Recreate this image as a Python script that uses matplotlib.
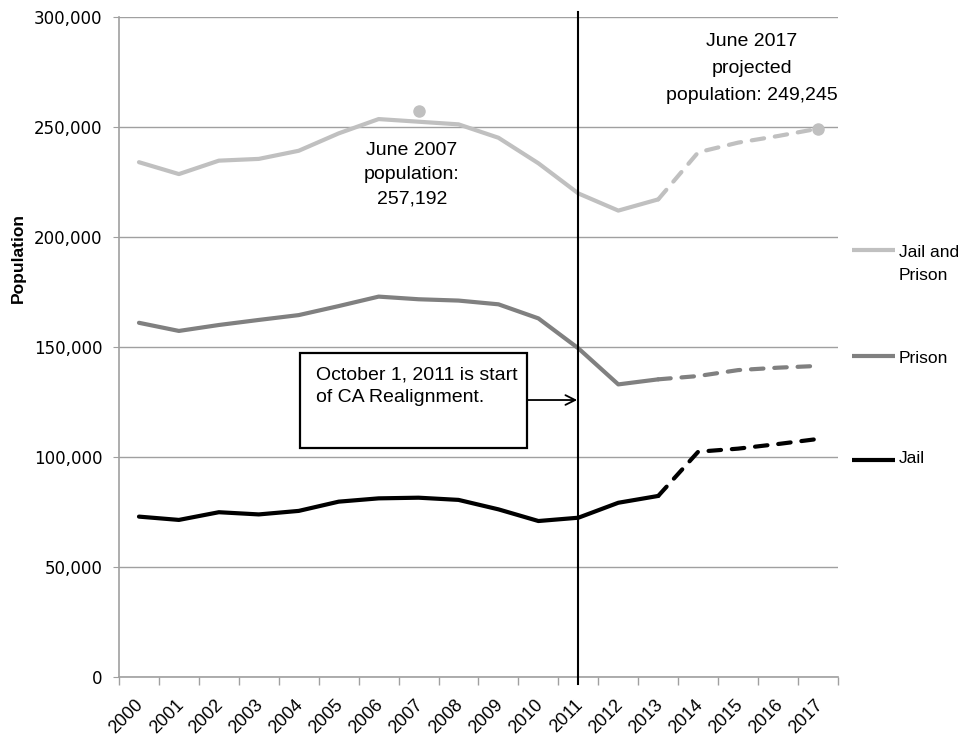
import matplotlib
matplotlib.use("Agg")
import matplotlib.pyplot as plt
from matplotlib import font_manager
from matplotlib.patches import Rectangle
from matplotlib.ticker import FuncFormatter, FixedLocator
from matplotlib.transforms import ScaledTranslation

# California incarcerated population, 2000-2017 (2014 onward projected)
years = ["2000", "2001", "2002", "2003", "2004", "2005", "2006", "2007", "2008",
         "2009", "2010", "2011", "2012", "2013", "2014", "2015", "2016", "2017"]
jail_and_prison = [234000, 228600, 234700, 235500, 239200, 247100, 253600, 252400, 251200,
                   245100, 233500, 219800, 212000, 217100, 238500, 242900, 245900, 249245]
prison = [161000, 157300, 160000, 162300, 164500, 168600, 172900, 171700, 171100,
          169400, 163000, 149400, 133000, 135300, 136800, 139500, 140600, 141400]
jail = [72900, 71400, 74900, 73900, 75500, 79700, 81200, 81500, 80500,
        76200, 70900, 72400, 79200, 82300, 102400, 103800, 105900, 108200]

series_names = ["Jail and\nPrison", "Prison", "Jail"]
last_actual_year = "2013"
realignment_year = "2011"
peak_year, peak_population = "2007", 257192
projected_year, projected_population = "2017", 249245

# prefer a narrow sans for the callouts when one is installed
installed = {f.name for f in font_manager.fontManager.ttflist}
NARROW = [n for n in ["Liberation Sans Narrow", "Arial Narrow"] if n in installed] + ["Liberation Sans", "DejaVu Sans"]
narrow_available = NARROW[0] != "Liberation Sans"
call_fs = 15.5 if narrow_available else 14
key_fs = 13.5 if narrow_available else 12.5

fig = plt.figure(figsize=(9.69, 7.42), dpi=100)
ax = fig.add_axes([0.1228, 0.0876, 0.742, 0.8895])

x = list(range(len(years)))
split = years.index(last_actual_year)

colors = ["#c0c0c0", "#808080", "#000000"]
all_series = [jail_and_prison, prison, jail]
for vals, col in zip(all_series, colors):
    ax.plot(x[:split + 1], vals[:split + 1], color=col, lw=3.0, solid_capstyle="round",
            solid_joinstyle="round", zorder=3)
    ax.plot(x[split:], vals[split:], color=col, lw=3.0, linestyle=(0, (3, 2.6)),
            dash_capstyle="round", zorder=3)

# highlighted points
ax.plot([years.index(peak_year)], [peak_population], "o", color="#c0c0c0", ms=8, zorder=4)
ax.plot([years.index(projected_year)], [projected_population], "o", color="#c0c0c0", ms=8, zorder=4)

ax.text(6.83, 228300, f"June {peak_year}\npopulation:\n{peak_population:,}",
        ha="center", va="center", fontsize=call_fs, family=NARROW, linespacing=1.55)
ax.text(15.35, 276500, f"June {projected_year}\nprojected\npopulation: {projected_population:,}",
        ha="center", va="center", fontsize=call_fs, family=NARROW, linespacing=1.75)

# realignment marker
xr = years.index(realignment_year)
ax.axvline(xr, ymin=-0.01, ymax=1.008, color="black", lw=1.5, clip_on=False, zorder=5)
ax.add_patch(Rectangle((4.025, 104100), 5.7, 43300, fill=False, edgecolor="black", lw=1.6, zorder=5))
ax.text(4.43, 141300, "October 1, 2011 is start\nof CA Realignment.", ha="left", va="top",
        fontsize=call_fs, family=NARROW, linespacing=1.45, zorder=6)
ax.annotate("", xy=(xr - 0.03, 125900), xytext=(9.725, 125900),
            arrowprops=dict(arrowstyle="->,head_length=0.7,head_width=0.35", color="black",
                            lw=1.3, shrinkA=0, shrinkB=0),
            zorder=6)

# axes styling
ax.set_xlim(-0.5, len(years) - 0.5)
ax.set_ylim(0, 300000)
ax.set_yticks(range(0, 300001, 50000))
ax.yaxis.set_major_formatter(FuncFormatter(lambda v, p: f"{int(v):,}"))
ax.grid(axis="y", color="#a0a0a0", lw=1.0)
ax.set_axisbelow(True)
for s in ["top", "right"]:
    ax.spines[s].set_visible(False)
for s in ["left", "bottom"]:
    ax.spines[s].set_color("#a0a0a0")
    ax.spines[s].set_linewidth(1.2)

ax.tick_params(axis="y", length=4, color="#a0a0a0", pad=8, labelsize=12)
for lab in ax.get_yticklabels():
    lab.set_family("DejaVu Sans")

ax.set_xticks(x)
ax.set_xticklabels(years, rotation=45, ha="right", va="top", rotation_mode="anchor",
                   fontsize=13, family="Liberation Sans")
ax.tick_params(axis="x", which="major", length=0, pad=14)
ax.xaxis.set_minor_locator(FixedLocator([i - 0.5 for i in range(len(years) + 1)]))
ax.tick_params(axis="x", which="minor", length=6, color="#a0a0a0", width=1.0)
off = ScaledTranslation(-4 / 100, 0, fig.dpi_scale_trans)
for lab in ax.get_xticklabels():
    lab.set_transform(lab.get_transform() + off)

ax.set_ylabel("Population", fontsize=12.5, fontweight="bold", family="Liberation Sans")
ax.yaxis.set_label_coords(-0.129, 0.635)

# right-hand series key
key_line_y = [0.647, 0.486, 0.329]
key_text_y = [0.602, 0.476, 0.324]
for name, col, yl, yt in zip(series_names, colors, key_line_y, key_text_y):
    ax.plot([1.0195, 1.079], [yl, yl], transform=ax.transAxes, color=col, lw=3.0,
            clip_on=False, solid_capstyle="butt")
    ax.text(1.085, yt, name, transform=ax.transAxes, ha="left", va="baseline",
            fontsize=key_fs, family=NARROW, linespacing=1.65)

fig.savefig("out.png", dpi=100)
